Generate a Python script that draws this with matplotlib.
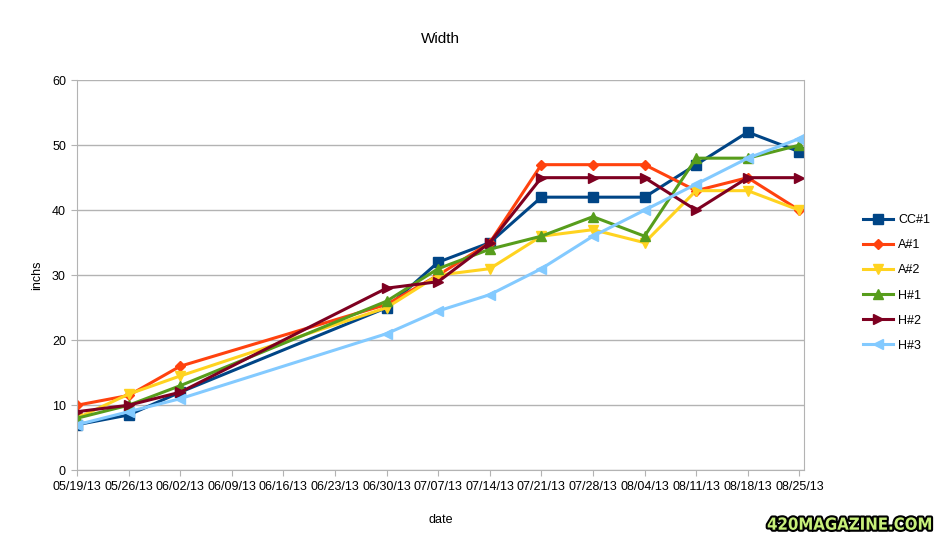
import numpy as np
import matplotlib
matplotlib.use("Agg")
from matplotlib import pyplot as plt
import matplotlib.dates as mdates
import matplotlib.patheffects as pe
from datetime import datetime, timedelta

plt.rcParams['font.family'] = ['Liberation Sans', 'DejaVu Sans']

dates = ['05/19/13', '05/26/13', '06/02/13', '06/30/13', '07/07/13', '07/14/13',
         '07/21/13', '07/28/13', '08/04/13', '08/11/13', '08/18/13', '08/25/13']
cc1 = [7, 8.5, 12, 25, 32, 35, 42, 42, 42, 47, 52, 49]
a1 = [10, 11.5, 16, 25.5, 30, 35, 47, 47, 47, 43, 45, 40]
a2 = [8, 11.7, 14.5, 25, 30, 31, 36, 37, 35, 43, 43, 40]
h1 = [8, 10, 13, 26, 31, 34, 36, 39, 36, 48, 48, 50]
h2 = [9, 10, 12, 28, 29, 35, 45, 45, 45, 40, 45, 45]
h3 = [7, 9, 11, 21, 24.5, 27, 31, 36, 40, 44, 48, 51]

names = ['CC#1', 'A#1', 'A#2', 'H#1', 'H#2', 'H#3']
series = [cc1, a1, a2, h1, h2, h3]
colors = ['#004586', '#ff420e', '#ffd320', '#579d1c', '#7e0021', '#83caff']
markers = ['s', 'D', 'v', '^', '>', '<']
msizes = [7, 5, 7, 7, 7, 7]

x = [datetime.strptime(d, '%m/%d/%y') for d in dates]

fig = plt.figure(figsize=(9.35, 5.38), dpi=100)
ax = fig.add_axes([0.0824, 0.126, 0.778, 0.725])

for s, n, c, m, ms in zip(series, names, colors, markers, msizes):
    ax.plot(x, s, color=c, marker=m, markersize=ms, linewidth=2.2, label=n)

ticks = [x[0] + timedelta(days=7 * i) for i in range(15)]
ax.set_xticks(ticks)
ax.xaxis.set_major_formatter(mdates.DateFormatter('%m/%d/%y'))
ax.set_xlim(x[0], x[-1] + timedelta(days=0.7))
ax.set_ylim(0, 60)
ax.set_yticks(range(0, 61, 10))
ax.yaxis.grid(True, color='#b3b3b3', linewidth=1)
ax.set_axisbelow(True)
for sp in ['left', 'bottom', 'right']:
    ax.spines[sp].set_color('#b3b3b3')
ax.spines['top'].set_visible(False)
ax.tick_params(axis='both', colors='#b3b3b3', labelcolor='black', labelsize=9, length=4)
ax.tick_params(axis='y', pad=4)
ax.tick_params(axis='x', pad=4)

ax.set_title('Width', fontsize=11, pad=27)
ax.set_xlabel('date', fontsize=9, labelpad=15)
ax.set_ylabel('inchs', fontsize=9, labelpad=6)

ax.legend(loc='center left', bbox_to_anchor=(1.065, 0.48), frameon=False,
          fontsize=9, handlelength=2.4, handletextpad=0.4, labelspacing=1.05)

fig.text(0.997, 0.008, '420MAGAZINE.COM', ha='right', va='bottom',
         fontsize=12, fontweight='bold', color='#c8f07a', fontstretch='condensed',
         family=['DejaVu Sans'],
         path_effects=[pe.withStroke(linewidth=3, foreground='black')])

fig.savefig('out.png', dpi=100)
